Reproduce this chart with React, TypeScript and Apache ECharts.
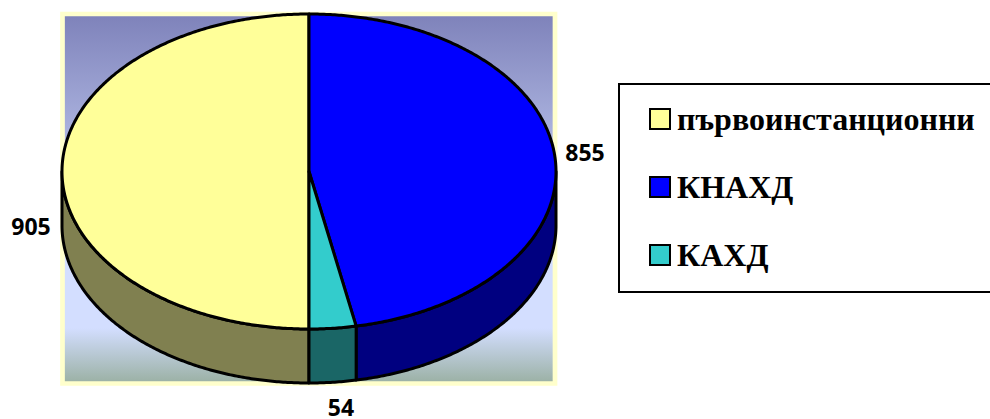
import React, { useEffect, useRef } from "react";
import * as echarts from "echarts";

const categories = ["първоинстанционни", "КНАХД", "КАХД"];
const values = [905, 855, 54];
const topColors = ["#FFFF99", "#0000FF", "#33CCCC"];
const wallColors = ["#808050", "#000080", "#1A6666"];
const labelAnchors = [
  [31, 226],
  [585, 152],
  [341, 407.4],
];

const CX = 309;
const CY = 171.5;
const RX = 247;
const RY = 157.5;
const DEPTH = 54;
const FIRST_ANGLE = 180;

const total = values.reduce((a, b) => a + b, 0);
const pt = (deg: number, dy = 0): number[] => {
  const r = (deg * Math.PI) / 180;
  return [CX + RX * Math.sin(r), CY + dy - RY * Math.cos(r)];
};
const arc = (from: number, to: number, dy = 0): number[][] => {
  const n = Math.max(2, Math.ceil((to - from) / 0.5));
  const pts: number[][] = [];
  for (let i = 0; i <= n; i++) pts.push(pt(from + ((to - from) * i) / n, dy));
  return pts;
};

const renderSlice = (index: number) => (_params: any, _api: any) => {
  const before = values.slice(0, index).reduce((a, b) => a + b, 0);
  // slice boundaries fall on whole degrees, as in the source chart
  const start = FIRST_ANGLE + Math.round((before / total) * 360);
  const end = FIRST_ANGLE + Math.round(((before + values[index]) / total) * 360);
  const children: any[] = [];
  const common = { stroke: "#000", lineWidth: 3, lineJoin: "round" };
  // the visible front wall lies between 90 and 270 degrees, also one turn later
  for (const shift of [0, 360]) {
    const a = Math.max(start, 90 + shift);
    const b = Math.min(end, 270 + shift);
    if (b > a + 0.01) {
      children.push({
        type: "polygon",
        shape: { points: [...arc(a, b), ...arc(a, b, DEPTH).reverse()] },
        style: { fill: wallColors[index], ...common },
      });
    }
  }
  children.push({
    type: "polygon",
    shape: { points: [[CX, CY], ...arc(start, end)] },
    style: { fill: topColors[index], ...common },
  });
  children.push({
    type: "text",
    style: {
      x: labelAnchors[index][0],
      y: labelAnchors[index][1],
      text: String(values[index]),
      fill: "#000",
      font: 'bold 23px "Open Sans"',
      align: "center",
      verticalAlign: "middle",
    },
  });
  return { type: "group", children };
};

export default function App() {
  const ref = useRef<HTMLDivElement>(null);
  useEffect(() => {
    document.body.style.margin = "0";
    document.body.style.overflow = "hidden";
    const chart = echarts.init(ref.current!, null, { renderer: "svg" });
    chart.setOption({
      animation: false,
      backgroundColor: "#fff",
      graphic: [
        {
          type: "rect",
          z: 0,
          shape: { x: 62.5, y: 14, width: 492.5, height: 369.5 },
          style: {
            stroke: "#FFFFCC",
            lineWidth: 4.7,
            fill: new echarts.graphic.LinearGradient(0, 0, 0, 1, [
              { offset: 0, color: "#7E82BA" },
              { offset: 0.62, color: "#D3DEFF" },
              { offset: 0.85, color: "#D3DEFF" },
              { offset: 1, color: "#9AB0A3" },
            ]),
          },
        },
      ],
      legend: {
        orient: "vertical",
        left: 619,
        top: 84,
        data: categories,
        icon: "rect",
        itemWidth: 20,
        itemHeight: 20,
        itemGap: 36,
        padding: [19, 40, 21, 30],
        borderColor: "#000",
        borderWidth: 2,
        selectedMode: false,
        itemStyle: { borderColor: "#000", borderWidth: 2 },
        textStyle: {
          color: "#000",
          fontFamily: '"Liberation Serif"',
          fontWeight: "bold",
          fontSize: 32,
          padding: [0, 0, 0, 2],
        },
      },
      series: categories.map((name, i) => ({
        type: "custom",
        name,
        coordinateSystem: "none",
        silent: true,
        itemStyle: { color: topColors[i] },
        data: [values[i]],
        renderItem: renderSlice(i),
      })),
    });
    return () => chart.dispose();
  }, []);
  return <div ref={ref} style={{ width: 990, height: 419 }} />;
}
